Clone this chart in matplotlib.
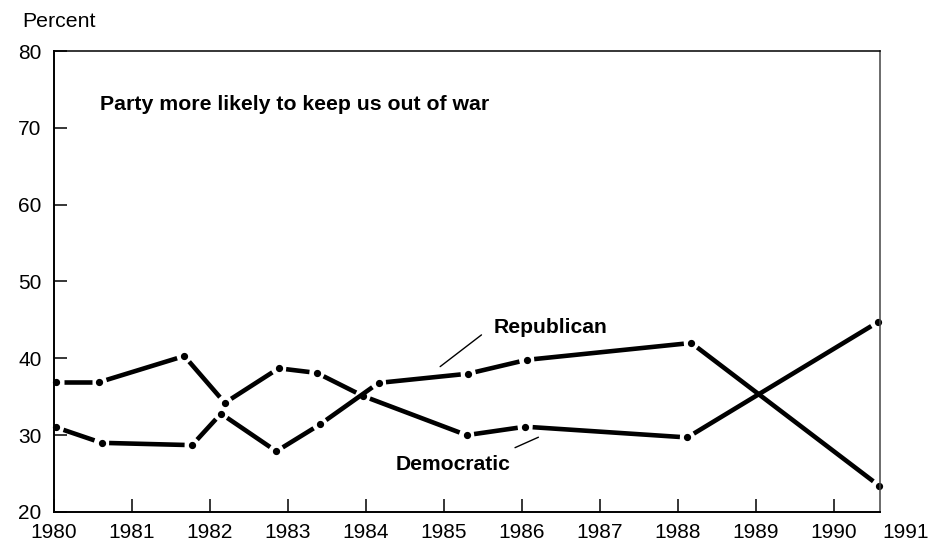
import numpy as np
import matplotlib.pyplot as plt

plt.rcParams['font.family'] = ['Liberation Sans', 'DejaVu Sans']

# fechas de encuesta (año fraccional) y porcentaje
dem_years = [1980.03, 1980.58, 1981.67, 1982.19, 1982.88, 1983.37, 1983.96,
             1985.29, 1986.04, 1988.12, 1990.56]
dem_pct = [36.9, 36.9, 40.3, 34.2, 38.7, 38.1, 35.1, 30.0, 31.1, 29.7, 44.7]

rep_years = [1980.03, 1980.61, 1981.77, 1982.14, 1982.85, 1983.41, 1984.16,
             1985.31, 1986.06, 1988.17, 1990.58]
rep_pct = [31.0, 29.0, 28.7, 32.8, 27.9, 31.4, 36.8, 38.0, 39.8, 42.0, 23.4]

year_ticks = list(range(1980, 1991))
pct_ticks = [20, 30, 40, 50, 60, 70, 80]

title = 'Party more likely to keep us out of war'

#%%
fig = plt.figure(figsize=(9.3, 5.45), dpi=100)
ax = fig.add_axes([0.0581, 0.0606, 0.8882, 0.8458])

ax.set_xlim(1980, 1990.59)
ax.set_ylim(20, 80)
ax.set_xticks(year_ticks)
ax.set_yticks(pct_ticks)
ax.tick_params(direction='in', length=9.4, width=1.1, labelsize=15)
ax.tick_params(axis='x', pad=8)
ax.tick_params(axis='y', pad=9)

for lado in ['left', 'bottom']:
    ax.spines[lado].set_linewidth(1.4)
for lado in ['top', 'right']:
    ax.spines[lado].set_linewidth(1.1)
ax.spines['right'].set_color('#444444')

# 1991 queda fuera del eje, igual que en el original
ax.annotate('1991', xy=(1991, 0), xycoords=('data', 'axes fraction'),
            xytext=(-4.5, -8), textcoords='offset points',
            ha='center', va='top', fontsize=15, annotation_clip=False)


def dibujar(ax, xs, ys, gap=7.5):
    # segmentos recortados junto a cada punto, como en el original
    pts = ax.transData.transform(np.column_stack([xs, ys]))
    inv = ax.transData.inverted()
    for p0, p1 in zip(pts[:-1], pts[1:]):
        d = p1 - p0
        u = d / np.hypot(*d)
        seg = inv.transform([p0 + u * gap, p1 - u * gap])
        ax.plot(seg[:, 0], seg[:, 1], color='black', lw=3.3,
                solid_capstyle='butt')
    ax.plot(xs, ys, 'o', color='black', ms=4.2, clip_on=False)


dibujar(ax, dem_years, dem_pct)
dibujar(ax, rep_years, rep_pct)

ax.text(1980.59, 72.3, title, fontsize=15.3, fontweight='bold', va='baseline')

ax.text(1985.64, 43.3, 'Republican', fontsize=15.2, fontweight='bold',
        va='baseline')
ax.annotate('', xy=(1984.95, 38.92), xytext=(1985.48, 43.05),
            arrowprops=dict(arrowstyle='-', lw=1, color='black',
                            shrinkA=0, shrinkB=0))

ax.text(1984.38, 25.47, 'Democratic', fontsize=15.2, fontweight='bold',
        va='baseline')
ax.annotate('', xy=(1986.21, 29.73), xytext=(1985.91, 28.37),
            arrowprops=dict(arrowstyle='-', lw=1, color='black',
                            shrinkA=0, shrinkB=0))

fig.text(0.0237, 0.951, 'Percent', fontsize=15.3, va='baseline')

fig.savefig('out.png', dpi=100)
